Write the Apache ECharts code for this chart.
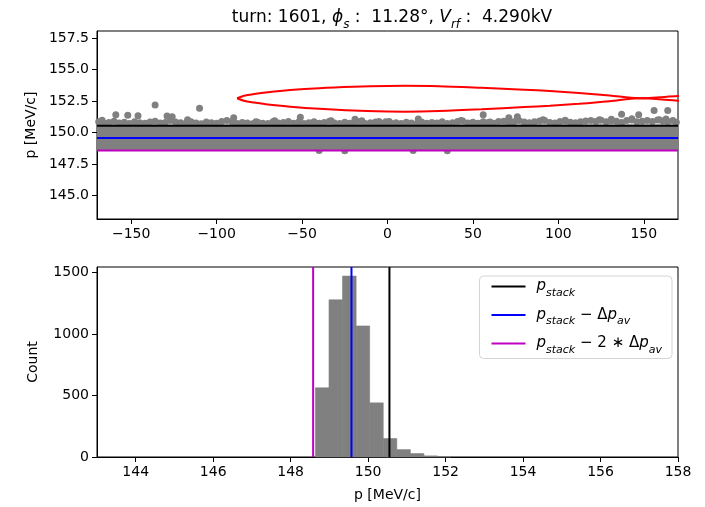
<!DOCTYPE html>
<html>
<head>
<meta charset="utf-8">
<script src="https://cdn.jsdelivr.net/npm/echarts@6/dist/echarts.min.js"></script>
<style>
  html, body { margin: 0; padding: 0; background: #fff; }
  #chart { width: 705px; height: 507px; }
</style>
</head>
<body>
<div id="chart"></div>
<script>
// ---- phase-space snapshot (top panel) ----
const phaseRange = [-170, 170];
const momRange = [143.15, 158.05];
const phaseTicks = [-150, -100, -50, 0, 50, 100, 150];
const momTicks = [145, 147.5, 150, 152.5, 155, 157.5];

// dense particle core: phase samples with lower / upper momentum bounds
const corePhase = [-170, 170];
const coreLow = [148.55, 148.55];
const coreHigh = [150.64, 150.64];

// particles along the upper edge of the core
const edgeParticles = [
  [-169,150.85],[-166,150.74],[-163,150.8],[-160,150.9],[-157,150.76],[-154,150.82],[-151,150.72],
  [-148,150.86],[-145,150.78],[-142,150.74],[-139,150.84],[-136,150.9],[-133,150.76],[-130,150.8],
  [-127,150.95],[-124,150.84],[-121,150.78],[-118,150.72],[-115,150.86],[-112,150.76],[-109,150.7],
  [-106,150.84],[-103,150.78],[-100,150.74],[-97,150.88],[-94,150.95],[-91,150.86],[-88,150.72],
  [-85,150.8],[-82,150.76],[-79,150.7],[-76,150.82],[-73,150.74],[-70,150.72],[-67,150.85],
  [-64,150.76],[-61,150.8],[-58,150.88],[-55,150.74],[-52,150.84],[-49,150.72],[-46,150.78],
  [-43,150.86],[-40,150.74],[-37,150.8],[-34,150.9],[-31,150.76],[-28,150.72],[-25,150.82],
  [-22,150.74],[-19,150.8],[-16,150.88],[-13,150.72],[-10,150.78],[-7,150.84],[-4,150.76],
  [-1,150.86],[2,150.74],[5,150.78],[8,150.72],[11,150.82],[14,150.76],[17,150.7],[20,150.84],
  [23,150.74],[26,150.8],[29,150.76],[32,150.86],[35,150.72],[38,150.78],[41,150.88],[44,150.92],
  [47,150.76],[50,150.82],[53,150.74],[56,150.86],[59,150.8],[62,150.74],[65,150.88],[68,150.9],
  [71,150.8],[74,150.86],[77,150.95],[80,150.84],[83,150.78],[86,150.86],[89,150.92],[92,150.96],
  [95,150.8],[98,150.76],[101,150.88],[104,150.92],[107,150.82],[110,150.78],[113,150.86],
  [116,150.92],[119,150.96],[122,150.88],[125,150.98],[128,150.86],[131,150.94],[134,150.9],
  [137,150.8],[140,150.96],[143,151.0],[146,150.86],[149,150.9],[152,150.96],[155,150.88],
  [158,151.0],[161,150.92],[164,150.86],[167,150.96],[169,150.82]
];

// isolated particles above and below the core
const strayParticles = [
  [-136,152.19],[-110,151.93],[-159,151.42],[-152,151.37],[-146,151.34],[-167,150.98],[-129,151.32],
  [-126,151.26],[-90,151.18],[-117,151.02],[-51,151.21],[-19,151.06],[-15,150.94],[-33,150.94],
  [-66,150.94],[-77,150.86],[-5,150.88],[1,150.88],[56,151.42],[18,151.08],[76,151.26],[71,151.18],
  [43,150.96],[91,151.02],[60,150.84],[137,151.45],[147,151.42],[156,151.74],[164,151.74],[124,151.02],
  [131,151.05],[143,151.1],[159,151.02],[104,150.97],[163,151.08],
  [-40,148.57],[-25,148.56],[15,148.57],[35,148.56]
];

// separatrix, upper and lower branches
const sepUpper = [
  [-88,152.72],[-84,152.92],[-78,153.06],[-70,153.2],[-57,153.37],[-40,153.52],[-20,153.63],[0,153.7],
  [10,153.71],[30,153.68],[55,153.55],[80,153.4],[95,153.29],[112,153.14],[130,152.94],[147,152.72],
  [170,152.9],[180,152.96]
];
const sepLower = [
  [-88,152.72],[-84,152.52],[-78,152.38],[-70,152.22],[-57,152.05],[-40,151.88],[-20,151.74],[0,151.67],
  [10,151.66],[30,151.7],[55,151.84],[80,152.02],[95,152.13],[112,152.28],[130,152.48],[147,152.72],
  [170,152.53],[180,152.47]
];

// reference momenta
const pStack = 150.55;
const pStackMinus1 = 149.57;
const pStackMinus2 = 148.58;

// ---- momentum histogram (bottom panel) ----
const histRange = [143, 158];
const histTicks = [144, 146, 148, 150, 152, 154, 156, 158];
const countMax = 1544;
const countTicks = [0, 500, 1000, 1500];
const binEdges = [148.64, 148.99, 149.34, 149.69, 150.04, 150.39, 150.74, 151.09, 151.44, 151.79, 152.14];
const binCounts = [562, 1277, 1470, 1065, 440, 150, 60, 28, 9, 4];

const FONT = 'DejaVu Sans';
const minus = v => String(v).replace('-', '\u2212');

const histData = binCounts.map((c, i) => [binEdges[i], binEdges[i + 1], c]);
const coreData = corePhase.slice(0, -1).map((p, i) => [p, corePhase[i + 1], coreLow[i], coreHigh[i], coreLow[i + 1], coreHigh[i + 1]]);

const baseAxis = {
  axisLine: { show: true, onZero: false, lineStyle: { color: '#000', width: 1 } },
  axisTick: { show: true, length: 5, lineStyle: { color: '#000' } },
  axisLabel: { color: '#000', fontFamily: FONT, fontSize: 14, margin: 8 },
  splitLine: { show: false },
  nameTextStyle: { color: '#000', fontFamily: FONT, fontSize: 14 }
};

const mathRich = {
  i: { fontFamily: FONT, fontStyle: 'italic', fontSize: 15, color: '#000', lineHeight: 24, verticalAlign: 'middle' },
  s: { fontFamily: FONT, fontStyle: 'italic', fontSize: 11, color: '#000', lineHeight: 13, verticalAlign: 'bottom' },
  t: { fontFamily: FONT, fontSize: 15, color: '#000', lineHeight: 24, verticalAlign: 'middle' }
};
const titleRich = {
  i: { fontFamily: FONT, fontStyle: 'italic', fontSize: 17, color: '#000', lineHeight: 26, verticalAlign: 'middle' },
  s: { fontFamily: FONT, fontStyle: 'italic', fontSize: 12, color: '#000', lineHeight: 14, verticalAlign: 'bottom' },
  t: { fontFamily: FONT, fontSize: 17, color: '#000', lineHeight: 26, verticalAlign: 'middle' }
};

const legendLabels = {
  'stack': '{i|p}{s|stack}',
  'stack1': '{i|p}{s|stack}{t| \u2212 \u0394}{i|p}{s|av}',
  'stack2': '{i|p}{s|stack}{t| \u2212 2 \u2217 \u0394}{i|p}{s|av}'
};

const vline = (name, x, color) => ({
  name, type: 'line', xAxisIndex: 1, yAxisIndex: 1, data: [[x, 0], [x, countMax]],
  symbol: 'none', lineStyle: { color, width: 2 }, itemStyle: { color }, z: 5, animation: false
});
const hline = (x, color) => ({
  type: 'line', xAxisIndex: 0, yAxisIndex: 0, data: [[phaseRange[0], x], [phaseRange[1], x]],
  symbol: 'none', lineStyle: { color, width: 2 }, z: 5, animation: false, silent: true
});

const option = {
  animation: false,
  title: {
    text: '{t|turn: 1601, }{i|\u03d5}{s|s}{t| :  11.28\u00b0, }{i|V}{s|rf}{t| :  4.290kV}',
    left: 387, top: 0, textAlign: 'center',
    textStyle: { fontFamily: FONT, fontSize: 17, fontWeight: 'normal', color: '#000', rich: titleRich }
  },
  legend: {
    data: ['stack', 'stack1', 'stack2'],
    orient: 'vertical', right: 33, top: 276,
    icon: 'rect', itemWidth: 34, itemHeight: 2, itemGap: 9,
    padding: [3, 10, 3, 12],
    borderColor: '#d4d4d4', borderWidth: 1, borderRadius: 4, backgroundColor: '#fff',
    formatter: n => legendLabels[n],
    textStyle: { rich: mathRich, padding: [0, 0, 0, 6] }
  },
  grid: [
    { left: 97, right: 27, top: 31, bottom: 288, show: true, borderColor: '#000', borderWidth: 1 },
    { left: 97, right: 27, top: 267, bottom: 50, show: true, borderColor: '#000', borderWidth: 1 }
  ],
  xAxis: [
    Object.assign({}, baseAxis, {
      type: 'value', gridIndex: 0, min: phaseRange[0], max: phaseRange[1],
      axisTick: Object.assign({}, baseAxis.axisTick, { customValues: phaseTicks }),
      axisLabel: Object.assign({}, baseAxis.axisLabel, { customValues: phaseTicks, formatter: minus })
    }),
    Object.assign({}, baseAxis, {
      type: 'value', gridIndex: 1, min: histRange[0], max: histRange[1],
      name: 'p [MeV/c]', nameLocation: 'middle', nameGap: 31,
      axisTick: Object.assign({}, baseAxis.axisTick, { customValues: histTicks }),
      axisLabel: Object.assign({}, baseAxis.axisLabel, { customValues: histTicks, formatter: v => String(v) })
    })
  ],
  yAxis: [
    Object.assign({}, baseAxis, {
      type: 'value', gridIndex: 0, min: momRange[0], max: momRange[1],
      name: 'p [MeV/c]', nameLocation: 'middle', nameGap: 58,
      axisTick: Object.assign({}, baseAxis.axisTick, { customValues: momTicks }),
      axisLabel: Object.assign({}, baseAxis.axisLabel, { customValues: momTicks, formatter: v => v.toFixed(1) })
    }),
    Object.assign({}, baseAxis, {
      type: 'value', gridIndex: 1, min: 0, max: countMax,
      name: 'Count', nameLocation: 'middle', nameGap: 57,
      axisTick: Object.assign({}, baseAxis.axisTick, { customValues: countTicks }),
      axisLabel: Object.assign({}, baseAxis.axisLabel, { customValues: countTicks, formatter: v => String(v) })
    })
  ],
  series: [
    {
      type: 'custom', xAxisIndex: 0, yAxisIndex: 0, data: coreData, z: 1, silent: true,
      renderItem: (params, api) => {
        const a = api.coord([api.value(0), api.value(2)]);
        const b = api.coord([api.value(1), api.value(4)]);
        const c = api.coord([api.value(1), api.value(5)]);
        const d = api.coord([api.value(0), api.value(3)]);
        return { type: 'polygon', shape: { points: [a, b, c, d] }, style: { fill: '#808080' } };
      }
    },
    {
      type: 'scatter', xAxisIndex: 0, yAxisIndex: 0, data: edgeParticles, symbolSize: 7,
      itemStyle: { color: '#808080', opacity: 1 }, z: 2, silent: true
    },
    {
      type: 'scatter', xAxisIndex: 0, yAxisIndex: 0, data: strayParticles, symbolSize: 7,
      itemStyle: { color: '#808080', opacity: 1 }, z: 2, silent: true
    },
    hline(pStack, '#000000'),
    hline(pStackMinus1, '#0000ff'),
    hline(pStackMinus2, '#bf00bf'),
    {
      type: 'line', xAxisIndex: 0, yAxisIndex: 0, data: sepUpper, symbol: 'none', smooth: 0.3,
      lineStyle: { color: '#ff0000', width: 2 }, z: 6, silent: true
    },
    {
      type: 'line', xAxisIndex: 0, yAxisIndex: 0, data: sepLower, symbol: 'none', smooth: 0.3,
      lineStyle: { color: '#ff0000', width: 2 }, z: 6, silent: true
    },
    {
      type: 'custom', xAxisIndex: 1, yAxisIndex: 1, data: histData, z: 2, silent: true,
      encode: { x: [0, 1], y: 2 },
      renderItem: (params, api) => {
        const p0 = api.coord([api.value(0), 0]);
        const p1 = api.coord([api.value(1), api.value(2)]);
        return {
          type: 'rect',
          shape: { x: p0[0], y: p1[1], width: p1[0] - p0[0], height: p0[1] - p1[1] },
          style: { fill: '#808080', stroke: '#808080', lineWidth: 0.6 }
        };
      }
    },
    vline('stack', pStack, '#000000'),
    vline('stack1', pStackMinus1, '#0000ff'),
    vline('stack2', pStackMinus2, '#bf00bf')
  ]
};

const chart = echarts.init(document.getElementById('chart'), null, { renderer: 'canvas' });
chart.setOption(option);
</script>
</body>
</html>
